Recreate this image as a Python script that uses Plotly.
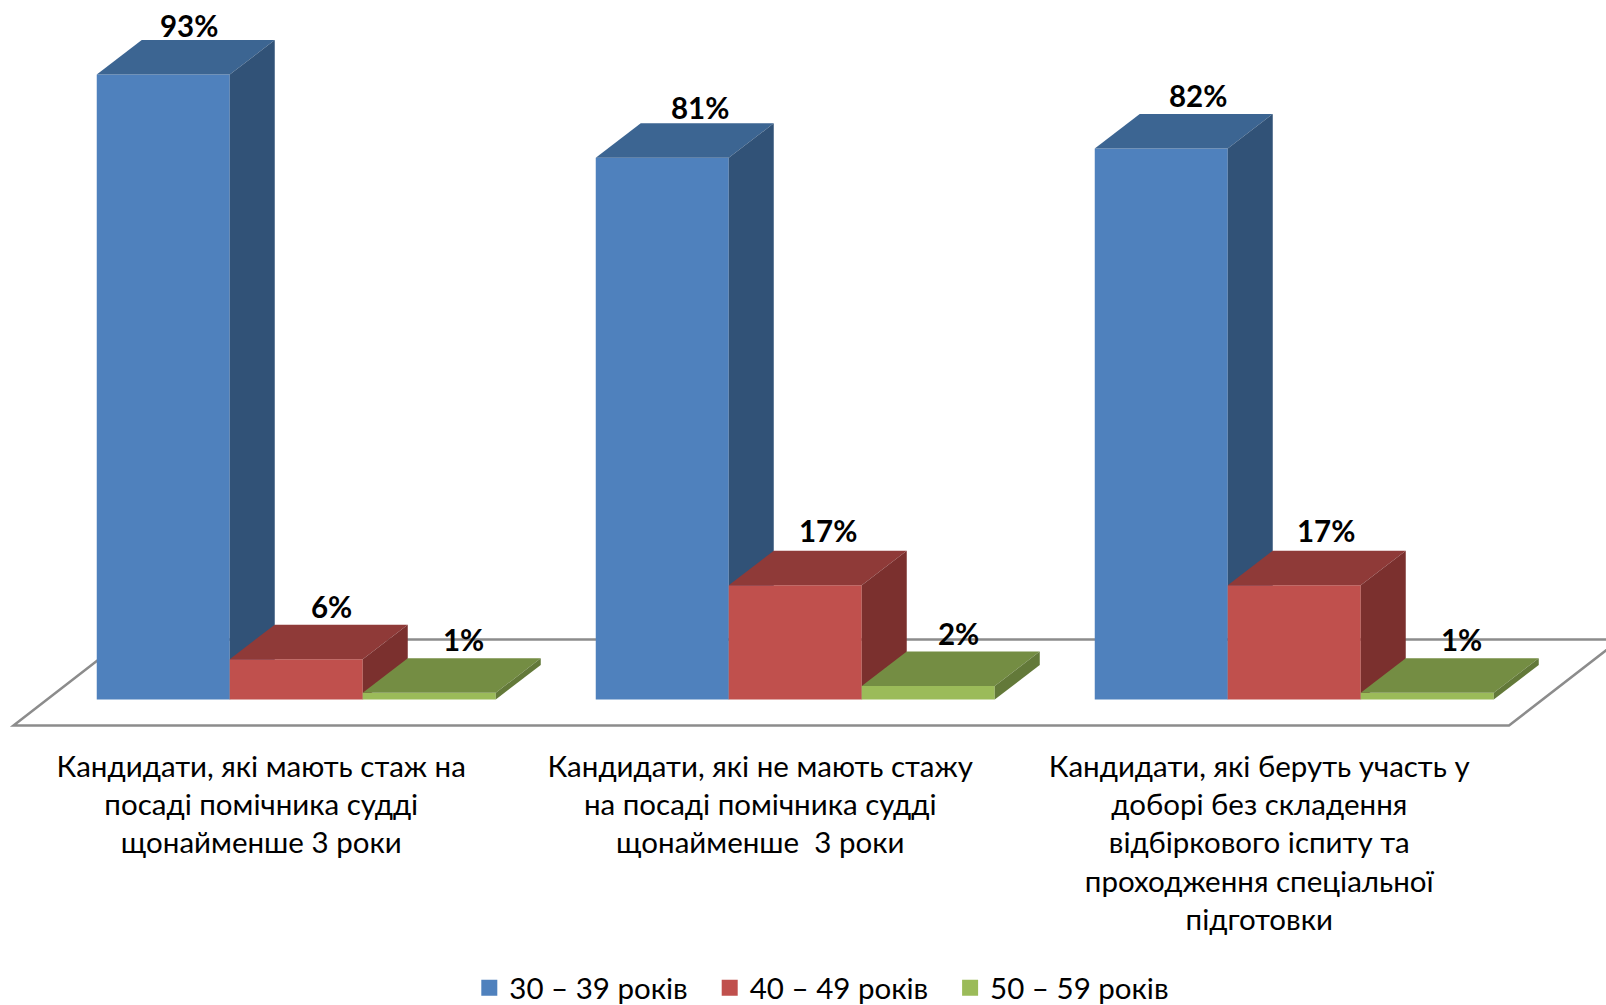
import plotly.graph_objects as go

# Data
categories = [
    "Кандидати, які мають стаж на<br>посаді помічника судді<br>щонайменше 3 роки",
    "Кандидати, які не мають стажу<br>на посаді помічника судді<br>щонайменше  3 роки",
    "Кандидати, які беруть участь у<br>доборі без складення<br>відбіркового іспиту та<br>проходження спеціальної<br>підготовки",
]
series_names = ["30 – 39 років", "40 – 49 років", "50 – 59 років"]
values_30 = [93, 80.6, 82]  # the middle bar is drawn a bit under its 81% label
values_40 = [6, 17, 17]
values_50 = [1, 2, 1]
series_values = [values_30, values_40, values_50]

# Colours: front, top, side
front_colors = ["#4F81BD", "#C0504D", "#9BBB59"]
top_colors = ["#3C6592", "#8F3A38", "#748D43"]
side_colors = ["#315277", "#7B302E", "#637939"]

# Layout, in pixels of the 1606x1005 page
W, H = 1606, 1005
GROUP_PX = 499.0     # distance between groups
GROUP0_PX = 296.25   # centre of first group
BASE_PX = 699.5      # y of the value 0
PX_PER_UNIT = 6.72   # pixels for 1%
PLOT_BOTTOM = 735    # bottom of the plot area
FONT = "Lato, Carlito, 'Noto Sans', sans-serif"
TEXT_SIZE = 29.5

BAR_W = 133.0 / GROUP_PX
DEPTH_X = 45.0 / GROUP_PX
DEPTH_Y = 34.5 / PX_PER_UNIT

# label nudges in px, per category and series
label_dx = [[26, 35, 34], [38, 33, 30], [37, 32, 34]]
label_dy = [[49, 53, 53], [50, 55, 53], [53, 55, 53]]

x_range = [-GROUP0_PX / GROUP_PX, (W - GROUP0_PX) / GROUP_PX]
y_range = [-(PLOT_BOTTOM - BASE_PX) / PX_PER_UNIT, BASE_PX / PX_PER_UNIT]


def to_x(px):
    return (px - GROUP0_PX) / GROUP_PX


def to_y(py):
    return (BASE_PX - py) / PX_PER_UNIT


fig = go.Figure()
annotations = []
positions = list(range(len(categories)))

for s, vals in enumerate(series_values):
    xname = "x" if s == 0 else f"x{s + 1}"
    yname = "y" if s == 0 else f"y{s + 1}"
    centers = [p + (s - 1) * BAR_W for p in positions]

    fig.add_trace(go.Bar(
        x=centers, y=vals, width=BAR_W, name=series_names[s],
        marker=dict(color=front_colors[s], line=dict(width=0)),
        xaxis=xname, yaxis=yname, showlegend=False,
    ))

    # top and side faces of each bar
    for c, v in zip(centers, vals):
        left, right = c - BAR_W / 2, c + BAR_W / 2
        fig.add_trace(go.Scatter(
            x=[left, right, right + DEPTH_X, left + DEPTH_X, left],
            y=[v, v, v + DEPTH_Y, v + DEPTH_Y, v],
            mode="lines", fill="toself", fillcolor=top_colors[s],
            line=dict(width=0), hoverinfo="skip", showlegend=False,
            xaxis=xname, yaxis=yname,
        ))
        fig.add_trace(go.Scatter(
            x=[right, right + DEPTH_X, right + DEPTH_X, right, right],
            y=[0, DEPTH_Y, v + DEPTH_Y, v, 0],
            mode="lines", fill="toself", fillcolor=side_colors[s],
            line=dict(width=0), hoverinfo="skip", showlegend=False,
            xaxis=xname, yaxis=yname,
        ))

    for i, (c, v) in enumerate(zip(centers, vals)):
        annotations.append(dict(
            x=c, y=v, xref="x", yref="y", text=f"<b>{round(v)}%</b>", showarrow=False,
            xanchor="center", yanchor="middle",
            xshift=label_dx[i][s], yshift=label_dy[i][s],
            font=dict(family=FONT, size=TEXT_SIZE, color="black"),
        ))

    # legend entry, a bar's own swatch is too small
    fig.add_trace(go.Scatter(
        x=[None], y=[None], mode="markers", name=series_names[s],
        marker=dict(symbol="square", size=18, color=front_colors[s], line=dict(width=0)),
        xaxis=xname, yaxis=yname,
    ))

# floor of the 3D box
floor_x = [to_x(13.5), to_x(1509), to_x(1620), to_x(124.5), to_x(13.5)]
floor_y = [to_y(725.5), to_y(725.5), to_y(639.5), to_y(639.5), to_y(725.5)]
floor_path = "M " + " L ".join(f"{a},{b}" for a, b in zip(floor_x, floor_y)) + " Z"

axis_common = dict(showgrid=False, zeroline=False, showline=False, fixedrange=True)

fig.update_layout(
    width=W, height=H,
    margin=dict(l=0, r=0, t=0, b=H - PLOT_BOTTOM, autoexpand=False),
    paper_bgcolor="white", plot_bgcolor="white",
    font=dict(family=FONT, size=TEXT_SIZE, color="black"),
    annotations=annotations,
    shapes=[dict(type="path", path=floor_path, xref="x", yref="y", layer="below",
                 fillcolor="white", line=dict(color="#8C8C8C", width=2.5))],
    xaxis=dict(
        range=x_range, tickmode="array",
        tickvals=[p - 35 / GROUP_PX for p in positions], ticktext=categories,
        tickangle=0, ticks="", ticklabelstandoff=11,
        tickfont=dict(family=FONT, size=TEXT_SIZE, color="black"),
        **axis_common,
    ),
    yaxis=dict(range=y_range, visible=False, **axis_common),
    xaxis2=dict(range=x_range, overlaying="x", visible=False, **axis_common),
    yaxis2=dict(range=y_range, overlaying="y", visible=False, **axis_common),
    xaxis3=dict(range=x_range, overlaying="x", visible=False, **axis_common),
    yaxis3=dict(range=y_range, overlaying="y", visible=False, **axis_common),
    legend=dict(
        orientation="h", x=0.517, xanchor="center",
        y=(PLOT_BOTTOM - 988) / PLOT_BOTTOM, yanchor="middle",
        font=dict(family=FONT, size=TEXT_SIZE, color="black"),
        itemwidth=30, entrywidth=195.4, entrywidthmode="pixels",
        bgcolor="rgba(0,0,0,0)",
    ),
)

# the page's default body margin would push the chart 8px off
fig.write_html("out.html", config={"displayModeBar": False},
               post_script="document.body.style.margin='0';")
